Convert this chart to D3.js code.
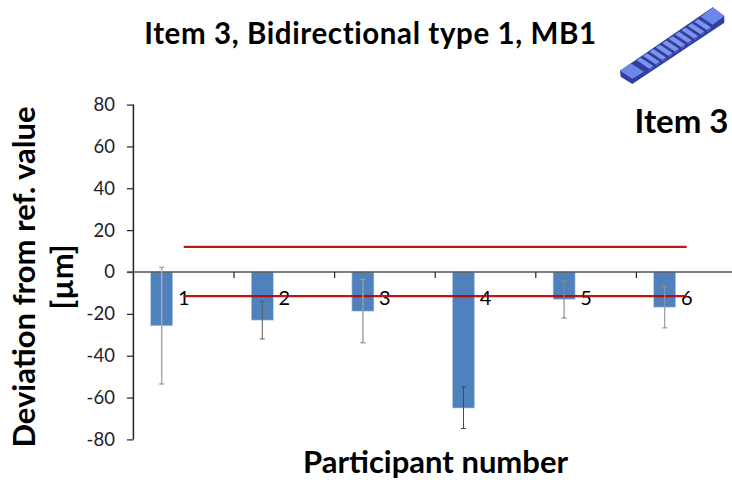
<!DOCTYPE html>
<html><head><meta charset="utf-8">
<script src="https://cdn.jsdelivr.net/npm/d3@7/dist/d3.min.js"></script>
<style>html,body{margin:0;padding:0;background:#fff}svg{display:block}text{font-family:Lato,sans-serif;fill:#000}</style>
</head><body><svg id="c" width="732" height="480"></svg>
<script>
const participants = ["1","2","3","4","5","6"];
const deviation = [-25.7,-23,-18.7,-65,-13,-16.8];
const errorHigh = [2.2,-13.9,-3.5,-54.9,-4,-6.9];
const errorLow = [-53.5,-32,-33.8,-74.8,-22,-26.7];
const upperLimit = [12,12,12,12,12,12];
const lowerLimit = [-11.5,-11.5,-11.5,-11.5,-11.5,-11.5];
const yTicks = [-80,-60,-40,-20,0,20,40,60,80];
const errorColors = ["#a8a8a8","#5a5a5a","#9c9c9c","#4a4a4a","#868686","#929292"];
const errorWidths = [1.5,1,1.4,1,1.1,1.1];

const svg = d3.select("#c");
const y = d3.scaleLinear().domain([-80,80]).range([439.4,104.6]);
const x = d3.scaleBand().domain(participants).range([133.4,737]);
const sub = d3.scaleBand().domain(["bar","none"]).range([0,x.bandwidth()]).paddingInner(.5).paddingOuter(.393);

// bars
svg.append("g").selectAll("rect").data(participants).join("rect")
  .attr("x",(d)=>x(d)+sub("bar")).attr("width",sub.bandwidth())
  .attr("y",y(0)).attr("height",(d,i)=>y(deviation[i])-y(0))
  .attr("fill","#4f81bd").attr("stroke","#b9cde5").attr("stroke-width",.6);

// axes
const ya = svg.append("g").attr("transform","translate(133.4,0)")
  .call(d3.axisLeft(y).tickValues(yTicks).tickFormat(d=>String(d)).tickSize(6.5).tickPadding(12));
ya.selectAll("path").attr("d",`M0,${y(80)}V${y(-80)}`).attr("stroke","#222").attr("stroke-width",1.5);
ya.selectAll("line").attr("stroke","#222").attr("stroke-width",1.2);
ya.selectAll("text").style("font-size","18.5px").style("font-family","Lato,sans-serif").style("fill","#222");

const xa = svg.append("g").attr("transform",`translate(0,${y(0)})`);
xa.append("line").attr("x1",127).attr("x2",732).attr("stroke","#555").attr("stroke-width",1.5);
xa.selectAll("line.t").data(participants.slice(1)).join("line").attr("class","t")
  .attr("x1",d=>x(d)).attr("x2",d=>x(d)).attr("y1",0).attr("y2",6).attr("stroke","#222").attr("stroke-width",1.2);
xa.selectAll("text").data(participants).join("text")
  .attr("x",d=>x(d)+x.bandwidth()/2).attr("y",33).attr("text-anchor","middle")
  .style("font-size","20px").text(d=>d);

// limits
const lineGen = d3.line().x((d,i)=>x(participants[i])+x.bandwidth()/2).y(d=>y(d));
[upperLimit,lowerLimit].forEach(s=>svg.append("path").attr("d",lineGen(s))
  .attr("fill","none").attr("stroke","#c00000").attr("stroke-width",2.2).attr("stroke-opacity",.92));

// error bars
const cx = d=>x(d)+sub("bar")+sub.bandwidth()/2;
const eb = svg.append("g").selectAll("g").data(participants).join("g").attr("stroke",(d,i)=>errorColors[i]).attr("stroke-width",(d,i)=>errorWidths[i]);
eb.append("line").attr("x1",cx).attr("x2",cx).attr("y1",(d,i)=>y(errorHigh[i])).attr("y2",(d,i)=>y(errorLow[i]));
eb.append("line").attr("x1",d=>cx(d)-2.5).attr("x2",d=>cx(d)+2.5).attr("y1",(d,i)=>y(errorHigh[i])).attr("y2",(d,i)=>y(errorHigh[i]));
eb.append("line").attr("x1",d=>cx(d)-2.5).attr("x2",d=>cx(d)+2.5).attr("y1",(d,i)=>y(errorLow[i])).attr("y2",(d,i)=>y(errorLow[i]));

// texts
svg.append("text").attr("x",370.5).attr("y",43.5).attr("text-anchor","middle").style("font-size","29.5px").style("letter-spacing","0.6px").style("font-weight",700).text("Item 3, Bidirectional type 1, MB1");
svg.append("text").attr("x",728.5).attr("y",133).attr("text-anchor","end").style("font-size","33px").style("font-weight",700).text("Item 3");
svg.append("text").attr("x",435.5).attr("y",473).attr("text-anchor","middle").style("font-size","31px").style("font-weight",700).text("Participant number");
const yl = svg.append("text").attr("transform","translate(35,277) rotate(-90)").attr("text-anchor","middle").style("font-size","31px").style("font-weight",700);
yl.append("tspan").attr("x",0).attr("dy",0).text("Deviation from ref. value");
yl.append("tspan").attr("x",0).attr("dy",38).text("[µm]");

// icon: part illustration (decorative)
const icon = svg.append("g").attr("transform","translate(600,0) scale(.3333)");
icon.append("polygon").attr("points",[[60,212],[338,22],[373,48],[373,68],[97,252],[62,230]].join(" ")).attr("fill","#2f3f9e");
icon.append("polygon").attr("points",[[60,212],[92,190],[132,215],[97,236]].join(" ")).attr("fill","#6c86ea");
icon.append("polygon").attr("points",[[302,50],[338,22],[373,48],[338,74]].join(" ")).attr("fill","#6c86ea");
d3.range(10).forEach(i=>{
  const ox=i*19.2, oy=-i*12.9;
  icon.append("polygon").attr("points",[[110+ox,181+oy],[122+ox,173+oy],[160+ox,198+oy],[148+ox,206+oy]].join(" ")).attr("fill","#7d93ee");
  icon.append("polygon").attr("points",[[148+ox,206+oy],[160+ox,198+oy],[160+ox,204+oy],[148+ox,212+oy]].join(" ")).attr("fill","#4a5cc4");
});
</script></body></html>
